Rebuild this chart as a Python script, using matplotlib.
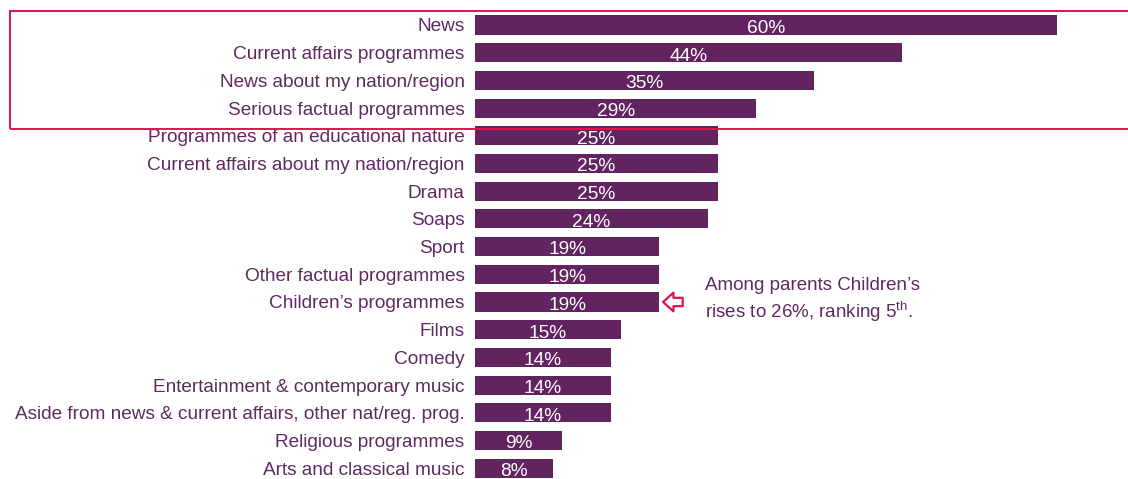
import matplotlib
matplotlib.use("Agg")
import matplotlib.pyplot as plt
import matplotlib.patches as patches

plt.rcParams["font.family"] = ["Liberation Sans", "DejaVu Sans"]
plt.rcParams["mathtext.fontset"] = "custom"
plt.rcParams["mathtext.rm"] = "Liberation Sans"

categories = [
    "News",
    "Current affairs programmes",
    "News about my nation/region",
    "Serious factual programmes",
    "Programmes of an educational nature",
    "Current affairs about my nation/region",
    "Drama",
    "Soaps",
    "Sport",
    "Other factual programmes",
    "Children\u2019s programmes",
    "Films",
    "Comedy",
    "Entertainment & contemporary music",
    "Aside from news & current affairs, other nat/reg. prog.",
    "Religious programmes",
    "Arts and classical music",
]
values = [60, 44, 35, 29, 25, 25, 25, 24, 19, 19, 19, 15, 14, 14, 14, 9, 8]

BAR = "#622461"
TEXT = "#5e2a62"
RED = "#e0134d"

W, H = 1128, 479
px_per_unit = 9.7
x0 = 475
row0, row_step = 25, 27.7

fig = plt.figure(figsize=(W / 100, H / 100), dpi=100)
ax = fig.add_axes([x0 / W, 0, 1 - x0 / W, 1])

rows = list(range(len(categories)))
ax.barh(rows, values, height=0.69, color=BAR)
ax.set_xlim(0, (W - x0) / px_per_unit)
ax.set_ylim((H - row0) / row_step, -row0 / row_step)

ax.set_yticks(rows)
ax.set_yticklabels(categories, fontsize=13.7, color=TEXT, va="center_baseline")
ax.tick_params(axis="y", length=0, pad=7.5)
ax.set_xticks([])
for s in ax.spines.values():
    s.set_visible(False)

for r, v in zip(rows, values):
    ax.text(v / 2, r + 0.05, f"{v}%", ha="center", va="center_baseline",
            color="white", fontsize=13.8)

# highlight box around the top four genres
fig.patches.append(patches.Rectangle((10 / W, 1 - 129 / H), (W + 10) / W, 118 / H,
                                     transform=fig.transFigure, fill=False,
                                     edgecolor=RED, linewidth=1.4))

# hollow arrow pointing at Children's programmes
ax.annotate("", xy=(19.1, 10), xytext=(21.7, 10),
            arrowprops=dict(arrowstyle="simple,head_width=1.35,head_length=0.75,tail_width=0.6",
                            facecolor="white", edgecolor=RED, linewidth=1.6))

ax.text(23.7, 9.95, "Among parents Children\u2019s\nrises to 26%, ranking 5$^{\\mathregular{th}}$.",
        ha="left", va="center", color=TEXT, fontsize=13.5, linespacing=1.25)

fig.savefig("out.png", dpi=100)
